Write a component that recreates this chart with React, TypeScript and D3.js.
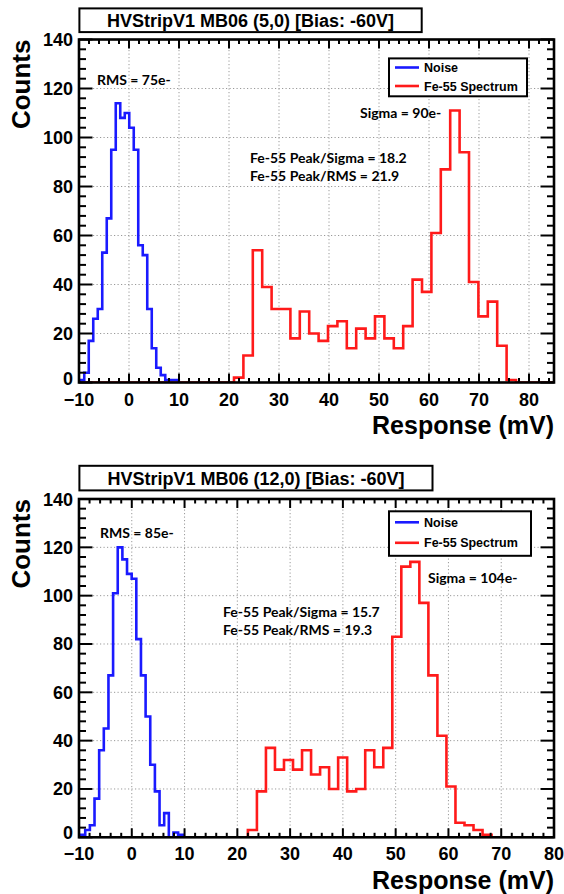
import React from 'react';
import * as d3 from 'd3';

// ---------- data ----------
const yTicks = [0, 20, 40, 60, 80, 100, 120, 140];
const yDomain = [0, 140];

// Panel 1
const p1Title = 'HVStripV1 MB06 (5,0) [Bias: -60V]';
const p1XDomain = [-10, 85];
const p1XTicks = [-10, 0, 10, 20, 30, 40, 50, 60, 70, 80];
const p1NoiseStart = -9.85;
const p1NoiseWidth = 0.9;
const p1NoiseCounts = [1, 4, 17, 26, 30, 53, 67, 95, 114, 108, 110, 104, 95, 56, 52, 30, 14, 6, 3, 1, 1, 1];
const p1FeStart = 21.0;
const p1FeWidth = 1.88;
const p1FeCounts = [2, 11, 54, 39, 30, 30, 18, 29, 20, 17, 23, 25, 14, 22, 18, 27, 18, 14, 23, 42, 37, 61, 87, 111, 94, 41, 27, 33, 15, 1];
const p1Labels = ['RMS = 75e-', 'Sigma = 90e-', 'Fe-55 Peak/Sigma = 18.2', 'Fe-55 Peak/RMS = 21.9'];

// Panel 2
const p2Title = 'HVStripV1 MB06 (12,0) [Bias: -60V]';
const p2XDomain = [-10, 80];
const p2XTicks = [-10, 0, 10, 20, 30, 40, 50, 60, 70, 80];
const p2NoiseStart = -9.7;
const p2NoiseWidth = 0.88;
const p2NoiseCounts = [1, 3, 5, 16, 36, 45, 67, 101, 120, 115, 109, 107, 82, 67, 50, 30, 19, 5, 10, 0, 2, 1];
const p2FeStart = 22.0;
const p2FeWidth = 1.71;
const p2FeCounts = [3, 19, 37, 28, 32, 28, 36, 26, 29, 20, 33, 19, 20, 36, 29, 37, 83, 112, 114, 97, 67, 42, 21, 6, 5, 3, 1];
const p2Labels = ['RMS = 85e-', 'Sigma = 104e-', 'Fe-55 Peak/Sigma = 15.7', 'Fe-55 Peak/RMS = 19.3'];

const legendNames = ['Noise', 'Fe-55 Spectrum'];
const seriesColors = ['#1a1aff', '#ff1a1a'];

// ---------- layout ----------
const FONT_H = "'Liberation Sans', Arial, Helvetica, sans-serif";
const FONT_C = "Lato, 'Open Sans', sans-serif";

const layouts = [
  {
    fx0: 79, fx1: 554, fy0: 39.5, fy1: 382.5,
    title: { x0: 79.4, x1: 421.7, y0: 8.4, y1: 32.1 },
    legend: { x0: 389, x1: 527, y0: 58.4, y1: 96.3, r0: 67.5, r1: 86 },
    texts: [[97, 85], [360, 118], [250, 162.7], [250, 180.5]],
  },
  {
    fx0: 79, fx1: 554, fy0: 499, fy1: 837.3,
    title: { x0: 79.4, x1: 432.5, y0: 465.8, y1: 490.4 },
    legend: { x0: 389, x1: 531, y0: 511.3, y1: 555.8, r0: 522.3, r1: 542.8 },
    texts: [[100, 537.7], [428, 582.7], [223, 616.7], [223, 635]],
  },
];

const panels = [
  { title: p1Title, xDomain: p1XDomain, xTicks: p1XTicks,
    noise: { start: p1NoiseStart, width: p1NoiseWidth, counts: p1NoiseCounts },
    fe: { start: p1FeStart, width: p1FeWidth, counts: p1FeCounts }, labels: p1Labels },
  { title: p2Title, xDomain: p2XDomain, xTicks: p2XTicks,
    noise: { start: p2NoiseStart, width: p2NoiseWidth, counts: p2NoiseCounts },
    fe: { start: p2FeStart, width: p2FeWidth, counts: p2FeCounts }, labels: p2Labels },
];

function histPath(h: any, x: any, y: any, extend?: number[]) {
  const p = d3.path();
  if (extend) {
    p.moveTo(x(extend[0]), y(0));
    p.lineTo(x(h.start), y(0));
  } else {
    p.moveTo(x(h.start), y(0));
  }
  h.counts.forEach((c: number, i: number) => {
    const a = h.start + i * h.width;
    p.lineTo(x(a), y(c));
    p.lineTo(x(a + h.width), y(c));
  });
  const end = h.start + h.counts.length * h.width;
  p.lineTo(x(end), y(0));
  if (extend) p.lineTo(x(extend[1]), y(0));
  return p.toString();
}

function Panel({ d, L, idx }: any) {
  const x = d3.scaleLinear().domain(d.xDomain).range([L.fx0, L.fx1]);
  const y = d3.scaleLinear().domain(yDomain).range([L.fy1, L.fy0]);
  const xMinor = d3.range(d.xDomain[0], d.xDomain[1] + 0.001, 2);
  const yMinor = d3.range(yDomain[0], yDomain[1] + 0.001, 4);
  const clipId = `clip${idx}`;
  const gridX = d.xTicks.filter((t: number) => t > d.xDomain[0] && t < d.xDomain[1]);
  const gridY = yTicks.filter((t) => t > yDomain[0] && t < yDomain[1]);
  const isMajX = (t: number) => Math.abs((t - d.xTicks[0]) % 10) < 1e-6;
  const isMajY = (t: number) => Math.abs(t % 20) < 1e-6;
  return (
    <g>
      <defs>
        <clipPath id={clipId}>
          <rect x={L.fx0} y={L.fy0} width={L.fx1 - L.fx0} height={L.fy1 - L.fy0} />
        </clipPath>
      </defs>
      {/* grid */}
      {gridX.map((t: number) => (
        <line key={'gx' + t} x1={x(t)} x2={x(t)} y1={L.fy0} y2={L.fy1} stroke="#999" strokeWidth={1} strokeDasharray="1.2,2.3" />
      ))}
      {gridY.map((t) => (
        <line key={'gy' + t} x1={L.fx0} x2={L.fx1} y1={y(t)} y2={y(t)} stroke="#999" strokeWidth={1} strokeDasharray="1.2,2.3" />
      ))}
      {/* histograms */}
      <g clipPath={`url(#${clipId})`}>
        <path d={histPath(d.fe, x, y, d.xDomain)} fill="none" stroke={seriesColors[1]} strokeWidth={2.6} strokeLinejoin="miter" />
        <path d={histPath(d.noise, x, y)} fill="none" stroke={seriesColors[0]} strokeWidth={2.6} strokeLinejoin="miter" />
      </g>
      {/* ticks */}
      {xMinor.map((t: number) => {
        const len = isMajX(t) ? 9 : 4.5;
        return (
          <g key={'tx' + t}>
            <line x1={x(t)} x2={x(t)} y1={L.fy1} y2={L.fy1 - len} stroke="#000" strokeWidth={2} />
            <line x1={x(t)} x2={x(t)} y1={L.fy0} y2={L.fy0 + len} stroke="#000" strokeWidth={2} />
          </g>
        );
      })}
      {yMinor.map((t: number) => {
        const len = isMajY(t) ? 13.5 : 7;
        return (
          <g key={'ty' + t}>
            <line x1={L.fx0} x2={L.fx0 + len} y1={y(t)} y2={y(t)} stroke="#000" strokeWidth={2} />
            <line x1={L.fx1} x2={L.fx1 - len} y1={y(t)} y2={y(t)} stroke="#000" strokeWidth={2} />
          </g>
        );
      })}
      {/* frame */}
      <rect x={L.fx0} y={L.fy0} width={L.fx1 - L.fx0} height={L.fy1 - L.fy0} fill="none" stroke="#000" strokeWidth={2.6} />
      {/* tick labels */}
      {d.xTicks.map((t: number) => (
        <text key={'lx' + t} x={x(t)} y={L.fy1 + 23} textAnchor="middle" fontFamily={FONT_H} fontWeight="bold" fontSize={18}>
          {t < 0 ? '\u2212' + Math.abs(t) : String(t)}
        </text>
      ))}
      {yTicks.map((t) => (
        <text key={'ly' + t} x={L.fx0 - 6} y={y(t) + (t === 0 ? 2 : 6.5)} textAnchor="end" fontFamily={FONT_H} fontWeight="bold" fontSize={18}>
          {t}
        </text>
      ))}
      {/* axis titles */}
      <text x={L.fx1} y={L.fy1 + 51.5} textAnchor="end" fontFamily={FONT_H} fontWeight="bold" fontSize={25}>
        Response (mV)
      </text>
      <text transform={`translate(29.5,${L.fy0}) rotate(-90)`} textAnchor="end" fontFamily={FONT_H} fontWeight="bold" fontSize={26}>
        Counts
      </text>
      {/* title box */}
      <rect x={L.title.x0} y={L.title.y0} width={L.title.x1 - L.title.x0} height={L.title.y1 - L.title.y0} fill="#fff" stroke="#000" strokeWidth={2} />
      <text x={(L.title.x0 + L.title.x1) / 2} y={(L.title.y0 + L.title.y1) / 2 + 6.5} textAnchor="middle" fontFamily={FONT_H} fontWeight="bold" fontSize={18}>
        {d.title}
      </text>
      {/* legend */}
      <rect x={L.legend.x0} y={L.legend.y0} width={L.legend.x1 - L.legend.x0} height={L.legend.y1 - L.legend.y0} fill="#fff" stroke="#000" strokeWidth={2} />
      {legendNames.map((n, i) => {
        const cy = i === 0 ? L.legend.r0 : L.legend.r1;
        return (
          <g key={n}>
            <line x1={L.legend.x0 + 6} x2={L.legend.x0 + 30} y1={cy} y2={cy} stroke={seriesColors[i]} strokeWidth={2.6} />
            <text x={L.legend.x0 + 35} y={cy + 4.5} fontFamily={FONT_H} fontWeight="bold" fontSize={12.5}>{n}</text>
          </g>
        );
      })}
      {/* annotations */}
      {d.labels.map((s: string, i: number) => (
        <text key={s} x={L.texts[i][0]} y={L.texts[i][1]} fontFamily={FONT_C} fontWeight="bold" fontSize={14}>
          {s}
        </text>
      ))}
    </g>
  );
}

export default function App() {
  return (
    <svg width={564} height={894} viewBox="0 0 564 894" style={{ position: 'absolute', left: 0, top: 0, background: '#fff' }}>
      <rect x={0} y={0} width={564} height={894} fill="#fff" />
      {panels.map((d, i) => (
        <Panel key={i} d={d} L={layouts[i]} idx={i} />
      ))}
    </svg>
  );
}
